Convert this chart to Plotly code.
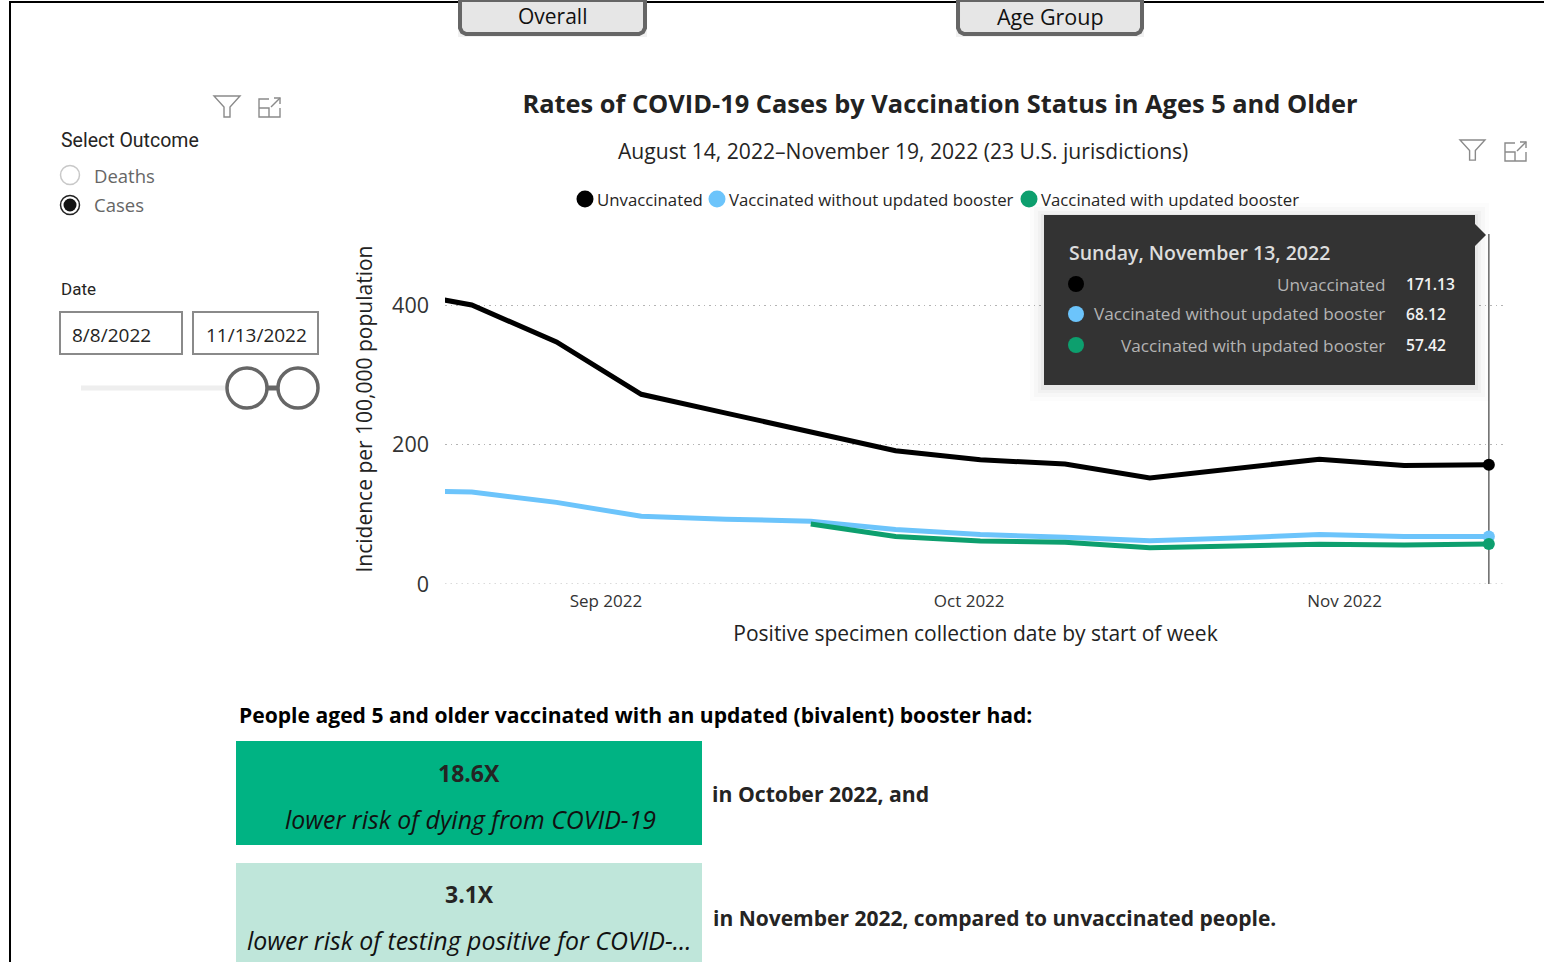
import plotly.graph_objects as go

W, H = 1544, 962

# Weekly incidence per 100,000 population
week_start = ["2022-08-14", "2022-08-21", "2022-08-28", "2022-09-04", "2022-09-11",
              "2022-09-18", "2022-09-25", "2022-10-02", "2022-10-09", "2022-10-16",
              "2022-10-23", "2022-10-30", "2022-11-06", "2022-11-13"]
unvaccinated = [422, 400, 347, 272, 245, 218, 191, 178, 172, 152, 166, 179, 170, 171.13]
without_booster = [134, 132, 117, 97, 93, 90, 78, 71, 67, 62, 66, 71, 68, 68.12]
with_booster = [None, None, None, None, None, 86, 68, 61.5, 60, 52, 54, 57, 56, 57.42]

series_names = ["Unvaccinated", "Vaccinated without updated booster", "Vaccinated with updated booster"]
series_colors = ["#000000", "#6cc4fb", "#0d9f6e"]
y_ticks = [0, 200, 400]
hover_date = "Sunday, November 13, 2022"

SANS = "Open Sans"
COND = "Roboto"
DARK = "#252423"
GRID_DASH = "1.5px,4px"
GRID_COLOR = "#b4b4b4"


def px(x):
    return x / W


def py(y):
    return 1 - y / H


def text(x, y, s, size, color=DARK, anchor="left", weight=400, family=SANS, italic=False):
    return dict(x=px(x), y=py(y - 1), xref="paper", yref="paper", text=s, showarrow=False,
                xanchor=anchor, yanchor="middle", borderpad=0,
                font=dict(size=size, color=color, family=family, weight=weight,
                          style="italic" if italic else "normal"))


def rect(x0, y0, x1, y1, fill="rgba(0,0,0,0)", line=None, width=0):
    return dict(type="rect", xref="paper", yref="paper", x0=px(x0), x1=px(x1), y0=py(y0), y1=py(y1),
                fillcolor=fill, line=dict(color=line or "rgba(0,0,0,0)", width=width))


def circle(cx, cy, r, fill="rgba(0,0,0,0)", line=None, width=0):
    return dict(type="circle", xref="paper", yref="paper", x0=px(cx - r), x1=px(cx + r),
                y0=py(cy + r), y1=py(cy - r), fillcolor=fill,
                line=dict(color=line or "rgba(0,0,0,0)", width=width))


def path(points, close=False, fill="rgba(0,0,0,0)", line=None, width=0):
    d = "M" + " L".join(f"{px(x):.5f},{py(y):.5f}" for x, y in points) + (" Z" if close else "")
    return dict(type="path", xref="paper", yref="paper", path=d, fillcolor=fill,
                line=dict(color=line or "rgba(0,0,0,0)", width=width))


def funnel(x, y, scale=1.0):
    pts = [(0, 0), (26, 0), (16, 11), (16, 21), (10, 21), (10, 11)]
    return path([(x + a * scale, y + b * scale) for a, b in pts], close=True, line="#8a8a8a", width=1.4)


def expand(x, y, scale=1.0):
    def p(seq):
        return path([(x + a * scale, y + b * scale) for a, b in seq], line="#8a8a8a", width=1.4)
    return [p([(10, 1), (0, 1), (0, 19), (21, 19), (21, 10)]),
            p([(0, 10), (10, 10), (10, 19)]),
            p([(12, 9), (21, 0)]),
            p([(15, 0), (21, 0), (21, 6)])]


def tab_button(x0, x1):
    return [rect(x0, 0, x1, 37, fill="#f1f1f1"),
            path([(x0 + 2, 0), (x0 + 2, 28), (x0 + 4, 32), (x0 + 8, 34), (x1 - 8, 34),
                  (x1 - 4, 32), (x1 - 2, 28), (x1 - 2, 0)], close=True,
                 fill="#e6e6e6", line="#666666", width=4)]


fig = go.Figure()
for name, values, color in zip(series_names, [unvaccinated, without_booster, with_booster], series_colors):
    fig.add_trace(go.Scatter(
        x=week_start, y=values, name=name, mode="lines+markers", cliponaxis=True,
        line=dict(color=color, width=5, shape="linear"),
        marker=dict(color=color, opacity=1, line=dict(width=0),
                    size=[0] * (len(week_start) - 1) + [12]),
        connectgaps=False, showlegend=False,
        hovertemplate="%{fullData.name}: %{y:.2f}<extra></extra>",
    ))

shapes = []
# Page frame
shapes.append(path([(10, 962), (10, 2), (1544, 2)], line="#000000", width=2))
# Tab buttons
shapes += tab_button(458, 647) + tab_button(956, 1144)
# Slicer panel icons and controls
shapes.append(funnel(214, 96))
shapes += expand(259, 98)
shapes.append(circle(70, 175, 9.5, fill="#ffffff", line="#c8c8c8", width=1.5))
shapes.append(circle(70, 205, 9.5, fill="#ffffff", line="#222222", width=1.5))
shapes.append(circle(70, 205, 6.5, fill="#111111"))
shapes.append(rect(60, 312, 182, 354, fill="#ffffff", line="#8a8a8a", width=2))
shapes.append(rect(193, 312, 318, 354, fill="#ffffff", line="#8a8a8a", width=2))
shapes.append(path([(81, 388), (230, 388)], line="#eeeeee", width=5))
shapes.append(path([(265, 388), (280, 388)], line="#666666", width=5))
shapes.append(circle(247, 388, 20, fill="#ffffff", line="#666666", width=3.5))
shapes.append(circle(298, 388, 20, fill="#ffffff", line="#666666", width=3.5))
# Chart header icons
shapes.append(funnel(1460, 140, 0.96))
shapes += expand(1505, 142)
# Legend swatches
shapes.append(circle(585, 199, 8.5, fill=series_colors[0]))
shapes.append(circle(717, 199, 8.5, fill=series_colors[1]))
shapes.append(circle(1029, 199, 8.5, fill=series_colors[2]))
# Baseline grid line at zero, which the axis leaves out at the range edge
shapes.append(dict(type="line", xref="paper", yref="y", x0=px(445), x1=px(1506), y0=y_ticks[0], y1=y_ticks[0],
                   line=dict(color=GRID_COLOR, width=1, dash=GRID_DASH), layer="below"))
# Hover crosshair, tied to the last week on the axis
shapes.append(dict(type="line", xref="x", yref="paper", x0=week_start[-1], x1=week_start[-1],
                   y0=py(584), y1=py(234), line=dict(color="#666666", width=1.5), layer="below"))
# Tooltip with a soft shadow
for grow, alpha in [(14, 0.012), (10, 0.018), (6, 0.025), (3, 0.035)]:
    shapes.append(rect(1044 - grow, 215 - grow + 2, 1475 + grow, 385 + grow + 2, fill=f"rgba(0,0,0,{alpha})"))
shapes.append(rect(1044, 215, 1475, 385, fill="#333333"))
shapes.append(path([(1475, 224), (1486, 235), (1475, 246)], close=True, fill="#333333"))
for cy, color in zip([284, 314, 345], series_colors):
    shapes.append(circle(1076, cy, 8, fill=color))
# Callout boxes
shapes.append(rect(236, 741, 702, 845, fill="#00b383"))
shapes.append(rect(236, 863, 702, 970, fill="#bfe6da"))

annotations = [
    text(552, 17, "Overall", 21, anchor="center", color="#111111"),
    text(1050, 17, "Age Group", 21.5, anchor="center", color="#111111"),
    text(60, 142, "Select Outcome", 19.5, family=COND),
    text(93, 176, "Deaths", 18.5, color="#666666"),
    text(93, 206, "Cases", 18.5, color="#666666"),
    text(60, 290, "Date", 17, family=COND),
    text(71, 336, "8/8/2022", 19),
    text(205, 336, "11/13/2022", 19),
    text(903, 151, "August 14, 2022–November 19, 2022 (23 U.S. jurisdictions)", 21.1, anchor="center"),
    text(596, 200, series_names[0], 16.8),
    text(728, 200, series_names[1], 16.8),
    text(1040, 200, series_names[2], 16.8),
    text(1068, 253, hover_date, 19.5, color="#dddddd", weight=600),
    text(238, 715, "People aged 5 and older vaccinated with an updated (bivalent) booster had:", 21.1,
         color="#000000", weight=700),
    text(469, 774, "18.6X", 23, anchor="center", weight=700),
    text(470, 820, "lower risk of dying from COVID-19", 24.9, anchor="center", italic=True, color="#111111"),
    text(711, 794, "in October 2022, and", 21.2, weight=700),
    text(469, 895, "3.1X", 23, anchor="center", weight=700),
    text(469, 941, "lower risk of testing positive for COVID-...", 24.9, anchor="center", italic=True, color="#111111"),
    text(712, 919, "in November 2022, compared to unvaccinated people.", 21, weight=700),
]
# Tooltip rows take their numbers from the last week of each series
last_values = [unvaccinated[-1], without_booster[-1], with_booster[-1]]
for cy, name, value in zip([285, 315, 346], series_names, last_values):
    annotations.append(text(1386, cy, name, 17.2, color="#b4b4b4", anchor="right"))
    annotations.append(text(1405, cy, f"{value:.2f}", 15.6, color="#f2f2f2", weight=600))

fig.update_layout(
    width=W, height=H, autosize=False, margin=dict(l=0, r=0, t=0, b=0),
    paper_bgcolor="#ffffff", plot_bgcolor="#ffffff", showlegend=False,
    font=dict(family=SANS, color=DARK),
    title=dict(text="Rates of COVID-19 Cases by Vaccination Status in Ages 5 and Older",
               x=px(940), xanchor="center", y=py(104), yanchor="middle",
               font=dict(size=25.4, weight=700, family=SANS, color="#222222")),
    xaxis=dict(domain=[px(445), px(1506)], range=["2022-08-18 19:00", "2022-11-14 10:00"],
               tickformat="%b %Y", dtick="M1", tick0="2022-09-01", ticklabelmode="instant",
               showgrid=False, zeroline=False, showline=False, ticks="", automargin=False,
               ticklabelstandoff=5, ticklabelshift=1,
               tickfont=dict(size=17, color="#333333"),
               title=dict(text="Positive specimen collection date by start of week",
                          font=dict(size=21, color="#222222"), standoff=15)),
    yaxis=dict(domain=[py(584), py(234)], range=[0, 501.8], tickvals=y_ticks,
               showgrid=True, gridcolor=GRID_COLOR, griddash=GRID_DASH, gridwidth=1,
               zeroline=False, showline=False, ticks="", automargin=False, ticklabelstandoff=15,
               tickfont=dict(size=21.5, color="#333333"),
               title=dict(text="Incidence per 100,000 population",
                          font=dict(size=21, color="#222222"), standoff=13)),
    shapes=shapes, annotations=annotations,
)

fig.write_html("out.html", config=dict(displayModeBar=False))
